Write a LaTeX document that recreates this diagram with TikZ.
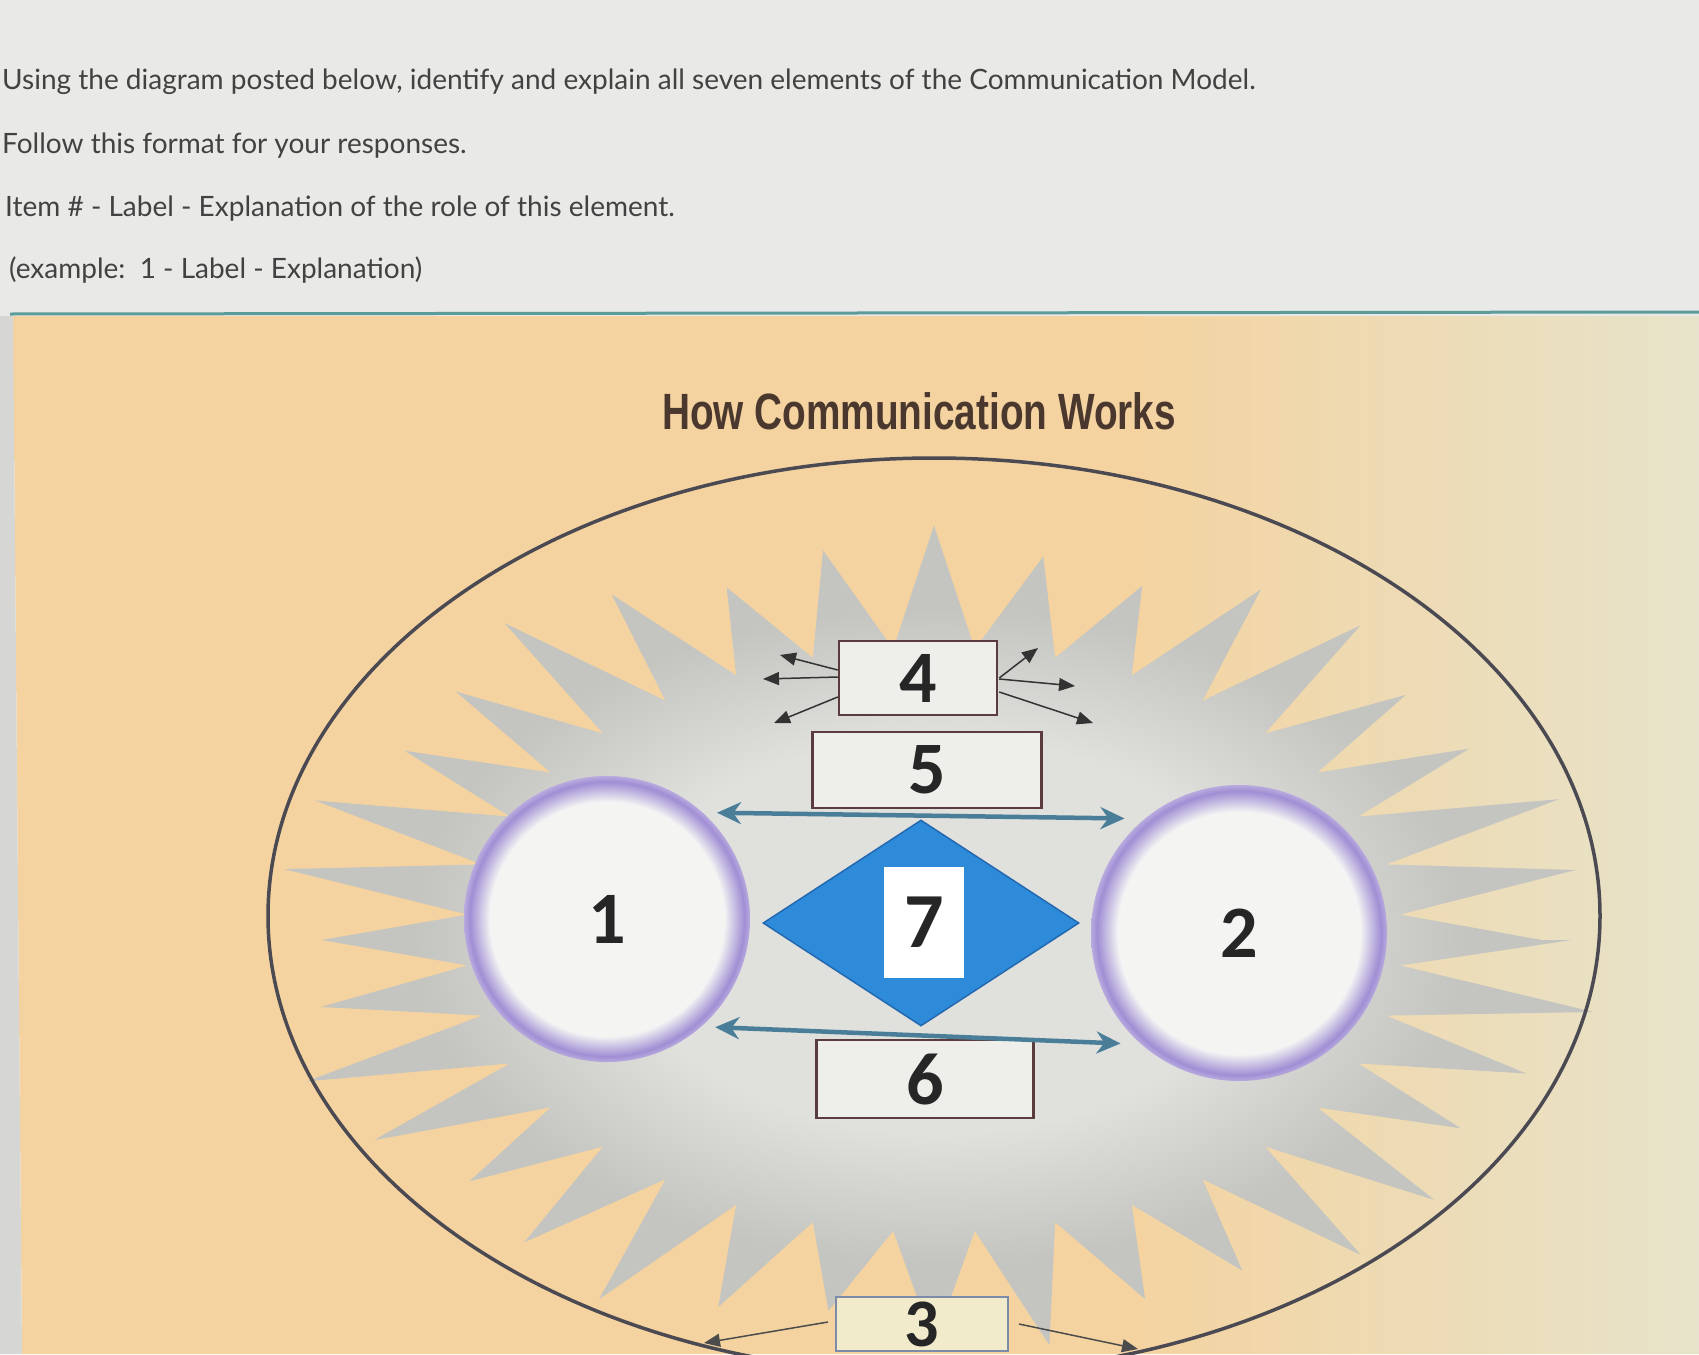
\documentclass[tikz,border=0pt]{standalone}
\usepackage{fontspec}
\setmainfont{Lato}
\newfontfamily\titlefont[FakeStretch=0.76]{Liberation Sans}
\newfontfamily\numfont{Carlito}
\usetikzlibrary{arrows.meta,shapes.geometric,calc}

\definecolor{pagegray}{HTML}{E9E9E7}
\definecolor{stripgray}{HTML}{D6D6D4}
\definecolor{peach}{HTML}{F4D3A0}
\definecolor{palepeach}{HTML}{E7E3CA}
\definecolor{tealline}{HTML}{5B9C9A}
\definecolor{bodytext}{HTML}{424242}
\definecolor{titlebrown}{HTML}{4A382E}
\definecolor{rimgray}{HTML}{4B4A52}
\definecolor{starout}{HTML}{C4C4C0}
\definecolor{starin}{HTML}{E0E0DD}
\definecolor{ringpurple}{HTML}{A08ED4}
\definecolor{ringwhite}{HTML}{F4F4F3}
\definecolor{boxrim}{HTML}{5A3C3E}
\definecolor{boxfill}{HTML}{EEEEEB}
\definecolor{arrowteal}{HTML}{4A7E98}
\definecolor{diamondblue}{HTML}{2E8BDA}
\definecolor{diamondrim}{HTML}{2468B0}
\definecolor{threerim}{HTML}{7C8BAA}
\definecolor{threefill}{HTML}{F2EBCB}

\pgfdeclarehorizontalshading{panelshade}{100bp}{color(0bp)=(peach); color(25bp)=(peach); color(58bp)=(peach); color(75bp)=(palepeach); color(100bp)=(palepeach)}
\pgfdeclareradialshading{ringshade}{\pgfpoint{0bp}{0bp}}{color(0bp)=(ringwhite); color(20.5bp)=(ringwhite); color(24bp)=(ringpurple); color(25bp)=(ringpurple!75!white); color(50bp)=(ringpurple!75!white)}
\pgfdeclareradialshading{starshade}{\pgfpoint{0bp}{0bp}}{color(0bp)=(starin); color(12bp)=(starin); color(20bp)=(starout); color(50bp)=(starout)}

\tikzstyle{prompt} = [
  anchor=base west,
  inner sep=0pt,
  font=\fontsize{28}{33}\selectfont,
  text=bodytext,
]
\tikzstyle{heading} = [
  inner sep=0pt,
  font=\titlefont\bfseries\fontsize{51}{51}\selectfont,
  text=titlebrown,
]
\tikzstyle{party} = [
  circle,
  inner sep=0pt,
  shading=ringshade,
  font=\numfont\bfseries\fontsize{74}{74}\selectfont,
  text=black!85,
]
\tikzstyle{numbox} = [
  draw=boxrim,
  line width=2.5pt,
  fill=boxfill,
  rectangle,
  inner sep=0pt,
  font=\numfont\bfseries\fontsize{74}{74}\selectfont,
  text=black!85,
]
\tikzstyle{flow} = [
  draw=arrowteal,
  line width=4.5pt,
  {Stealth[length=24pt,width=22pt]}-{Stealth[length=24pt,width=22pt]},
]
\tikzstyle{spread} = [
  draw=black!80,
  line width=1.5pt,
  -{Triangle[length=16pt,width=13pt]},
]

\begin{document}
\begin{tikzpicture}[
    auto,
    x=1pt,
    y=-1pt,
  ]
  \useasboundingbox (0,0) rectangle (1699,1354);
  \clip (0,0) rectangle (1699,1354);

  % page and panel
  \fill[pagegray] (0,0) rectangle (1699,316);
  \shade[shading=panelshade] (13,316) -- (1699,316) -- (1699,1354) -- (22,1354) -- cycle;
  \fill[stripgray] (0,316) -- (13,316) -- (22,1354) -- (0,1354) -- cycle;
  \draw[tealline, line width=3pt] (10,314) -- (1699,312);

  % question text
  \node[prompt]
  (askline) at (2,89) {Using the diagram posted below, identify and explain all seven elements of the Communication Model.};
  \node[prompt]
  (formatline) at (2,153) {Follow this format for your responses.};
  \node[prompt]
  (itemline) at (5,216) {Item \# - Label - Explanation of the role of this element.};
  \node[prompt]
  (exampleline) at (9,278) {(example:\ \ 1 - Label - Explanation)};

  \node[heading]
  (title) at (919,411) {How Communication Works};

  % grey burst
  \shade[shading=starshade] (1572,940)
    \foreach \i in {1,...,36}{
      -- ({934+468*cos((\i-0.5)*10)},{940+292*sin((\i-0.5)*10)})
      -- ({934+638*(1+0.05*sin(\i*97))*cos(\i*10)},{940+395*(1+0.05*sin(\i*97))*sin(\i*10)})
    } -- cycle;

  % context ring
  \draw[rimgray, line width=3.5pt] (934,916) ellipse [x radius=666, y radius=458];

  % sender and receiver
  \node[
    party,
    minimum size=286pt,
    outer sep=10pt,
  ](sender) at (607,919) {1};
  \node[
    party,
    minimum size=296pt,
    outer sep=14pt,
  ](receiver) at (1239,933) {2};

  % boxes
  \node[
    numbox,
    minimum width=158pt,
    minimum height=74pt,
  ](noise) at (918,678) {4};
  \node[
    numbox,
    minimum width=229pt,
    minimum height=76pt,
  ](message) at (927,770) {5};
  \node[
    numbox,
    minimum width=217pt,
    minimum height=78pt,
  ](feedback) at (925,1079) {6};
  \node[
    numbox,
    draw=threerim,
    fill=threefill,
    line width=2pt,
    minimum width=172pt,
    minimum height=54pt,
    font=\numfont\bfseries\fontsize{68}{68}\selectfont,
  ](setting) at (922,1324) {3};

  % channel
  \node[
    diamond,
    minimum width=316pt,
    minimum height=206pt,
    inner sep=0pt,
    fill=diamondblue,
    draw=diamondrim,
    line width=1.5pt,
  ](channel) at (921,923) {};
  \node[
    rectangle,
    fill=white,
    inner sep=0pt,
    minimum width=80pt,
    minimum height=111pt,
    font=\numfont\bfseries\fontsize{78}{78}\selectfont,
    text=black!85,
  ](code) at (924,922) {7};

  % arrows between the parties
  \draw[flow] (sender.44) -- (receiver.135);
  \draw[flow] (sender.-45) -- (receiver.-137);

  % noise spreading out
  \coordinate (nwa) at (780,655);
  \coordinate (nwb) at (763,679);
  \coordinate (nwc) at (774,723);
  \coordinate (nea) at (1038,648);
  \coordinate (neb) at (1075,686);
  \coordinate (nec) at (1093,723);
  \draw[spread] ($(noise.west)+(0,-8)$) -- (nwa);
  \draw[spread] ($(noise.west)+(0,-1)$) -- (nwb);
  \draw[spread] ($(noise.west)+(0,19)$) -- (nwc);
  \draw[spread] ($(noise.east)+(1,0)$) -- (nea);
  \draw[spread] ($(noise.east)+(1,1)$) -- (neb);
  \draw[spread] ($(noise.east)+(1,14)$) -- (nec);

  % setting arrows to the ring
  \coordinate (rimleft) at (704,1343);
  \coordinate (rimright) at (1138,1349);
  \draw[spread, draw=black!70] ($(setting.west)+(-7,-2)$) -- (rimleft);
  \draw[spread, draw=black!70] ($(setting.east)+(10,0)$) -- (rimright);
\end{tikzpicture}
\end{document}
